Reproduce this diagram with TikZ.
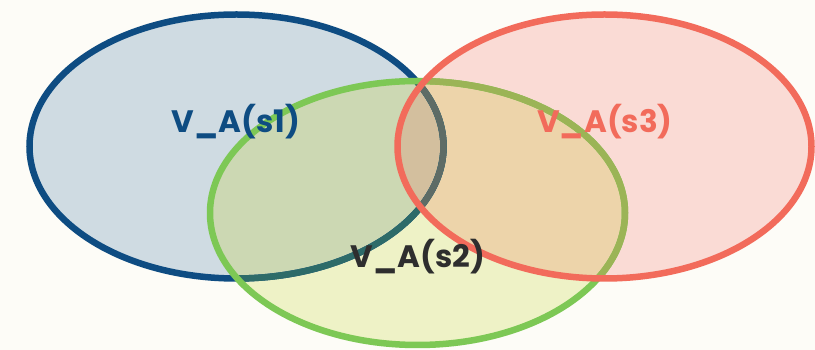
\documentclass[tikz,border=0pt]{standalone}
\usepackage{fontspec}
\setmainfont{Poppins}
\definecolor{bgc}{HTML}{FDFCF7}
\definecolor{bluefill}{HTML}{CFDBE2}
\definecolor{greenfill}{HTML}{EEF2C6}
\definecolor{redfill}{HTML}{FADBD5}
\definecolor{bgfill}{HTML}{CCD8B3}
\definecolor{grfill}{HTML}{EDD4AA}
\definecolor{bgrfill}{HTML}{D3BF9E}
\definecolor{blueline}{HTML}{0E4C82}
\definecolor{tealline}{HTML}{2D6B69}
\definecolor{grayline}{HTML}{5E6C66}
\definecolor{greenline}{HTML}{7DC855}
\definecolor{oliveline}{HTML}{9BB456}
\definecolor{redline}{HTML}{F26B5B}
\definecolor{darktext}{HTML}{2E2E2E}
\tikzset{
  border/.style={line width=6.5pt},
  lbl/.style={font=\fontsize{31}{34}\selectfont\bfseries, inner sep=0pt}
}
\def\EB{(236.5,203.5) ellipse [x radius=207, y radius=132]}
\def\EG{(417.5,137) ellipse [x radius=207.5, y radius=132]}
\def\ER{(604.5,203.5) ellipse [x radius=207, y radius=132]}
\begin{document}
\begin{tikzpicture}[x=1pt,y=1pt]
\fill[bgc] (0,0) rectangle (815,350);
\useasboundingbox (0,0) rectangle (815,350);
% fills
\fill[bluefill] \EB;
\fill[greenfill] \EG;
\fill[redfill] \ER;
\begin{scope}\clip \EB; \fill[bgfill] \EG; \end{scope}
\begin{scope}\clip \EG; \fill[grfill] \ER; \end{scope}
\begin{scope}\clip \EB; \clip \EG; \fill[bgrfill] \ER; \end{scope}
% blue border
\draw[border, blueline] \EB;
\begin{scope}\clip \EG; \draw[border, tealline] \EB; \end{scope}
\begin{scope}\clip \EG; \clip \ER; \draw[border, grayline] \EB; \end{scope}
% green border
\draw[border, greenline] \EG;
\begin{scope}\clip \ER; \draw[border, oliveline] \EG; \end{scope}
% red border
\draw[border, redline] \ER;
% labels
\node[lbl, text=blueline] (s1) at (236,228) {V\_A(s1)};
\node[lbl, text=redline] (s3) at (605,228) {V\_A(s3)};
\node[lbl, text=darktext] (s2) at (418,93) {V\_A(s2)};
\end{tikzpicture}
\end{document}
